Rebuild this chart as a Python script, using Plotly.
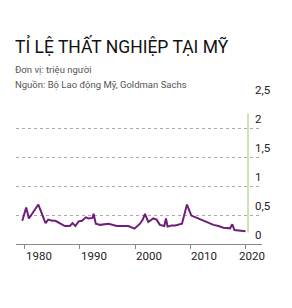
import plotly.graph_objects as go

# Weekly initial jobless claims (millions)
years = [1979.6, 1980.3, 1980.8, 1981.6, 1982.0, 1982.5, 1983.0, 1983.8, 1984.3, 1985.0, 1985.6,
         1986.7, 1987.3, 1988.2, 1988.7, 1989.2, 1989.8, 1990.4, 1991.1, 1991.6, 1992.3, 1992.5,
         1992.9, 1993.7, 1995.2, 1996.7, 1998.8, 1999.9, 2000.9, 2001.4, 2001.8, 2002.4, 2003.3,
         2003.9, 2004.5, 2005.3, 2005.6, 2005.9, 2006.6, 2007.3, 2008.5, 2009.4, 2010.2, 2011.2,
         2012.4, 2013.3, 2014.2, 2015.1, 2016.0, 2017.2, 2017.6, 2018.0, 2019.0, 2020.0]
claims = [0.40, 0.63, 0.44, 0.56, 0.60, 0.68, 0.56, 0.36, 0.42, 0.40, 0.40,
          0.35, 0.31, 0.31, 0.36, 0.31, 0.39, 0.40, 0.46, 0.44, 0.45, 0.52,
          0.35, 0.33, 0.35, 0.31, 0.31, 0.265, 0.35, 0.42, 0.52, 0.38, 0.44,
          0.42, 0.33, 0.31, 0.44, 0.30, 0.32, 0.32, 0.35, 0.68, 0.49, 0.45,
          0.40, 0.37, 0.33, 0.31, 0.28, 0.27, 0.34, 0.24, 0.23, 0.22]

forecast_x = [2020.45, 2020.45]
forecast_y = [0.20, 2.25]

x_ticks = [1980, 1990, 2000, 2010, 2020]
x_tick_labels = ["1980", "1990", "2000", "2010", "2020"]
y_ticks = [0, 0.5, 1, 1.5, 2, 2.5]
y_tick_labels = ["0", "0,5", "1", "1,5", "2", "2,5"]

title = "TỈ LỆ THẤT NGHIỆP TẠI MỸ"
unit = "Đơn vị: triệu người"
source = "Nguồn: Bộ Lao động Mỹ, Goldman Sachs"

FONT = "Roboto"

L, R, T, B = 16, 30, 99, 63.5
W, H = 292, 308

def py(px):
    return (H - B - px) / (H - T - B)

def pxx(px):
    return (px - L) / (W - L - R)

fig = go.Figure()
fig.add_trace(go.Scatter(x=forecast_x, y=forecast_y, mode="lines",
                         line=dict(color="#b9dc9f", width=1.5), hoverinfo="skip"))
fig.add_trace(go.Scatter(x=years, y=claims, mode="lines",
                         line=dict(color="#6d2077", width=2)))

annotations = []
for v, t in zip(y_ticks, y_tick_labels):
    annotations.append(dict(x=pxx(253), xref="paper", y=v, yref="y", text=t,
                            xanchor="left", yanchor="bottom", yshift=0,
                            showarrow=False, font=dict(family=FONT, size=11.5, color="#222")))
for v, t in zip(x_ticks, x_tick_labels):
    annotations.append(dict(x=v, xref="x", y=0, yref="paper", text=t,
                            xanchor="left", yanchor="top", yshift=-3,
                            xshift=(-9 if v == 2020 else -1),
                            showarrow=False, font=dict(family=FONT, size=11.5, color="#222")))

annotations.append(dict(x=pxx(13), y=py(59), xref="paper", yref="paper", text=title,
                        xanchor="left", yanchor="bottom", showarrow=False,
                        font=dict(family=FONT, size=17.5, color="#111")))
annotations.append(dict(x=pxx(13), y=py(77), xref="paper", yref="paper", text=unit,
                        xanchor="left", yanchor="bottom", showarrow=False,
                        font=dict(family=FONT, size=9.5, color="#555")))
annotations.append(dict(x=pxx(13), y=py(92), xref="paper", yref="paper", text=source,
                        xanchor="left", yanchor="bottom", showarrow=False,
                        font=dict(family=FONT, size=9.5, color="#555")))

fig.update_layout(
    width=W, height=H,
    margin=dict(l=L, r=R, t=T, b=B),
    paper_bgcolor="white", plot_bgcolor="white",
    showlegend=False,
    annotations=annotations,
    xaxis=dict(range=[1978.46, 2022.98], showgrid=False, zeroline=False,
               showline=True, linecolor="#888", linewidth=1,
               tickvals=x_ticks, ticks="outside", ticklen=4, tickcolor="#888",
               showticklabels=False, fixedrange=True),
    yaxis=dict(range=[0, 2.5], showgrid=True, gridcolor="#aaa", griddash="dot",
               gridwidth=1, zeroline=False, tickvals=y_ticks, showticklabels=False,
               fixedrange=True),
)

fig.write_html("out.html", config={"displayModeBar": False})
